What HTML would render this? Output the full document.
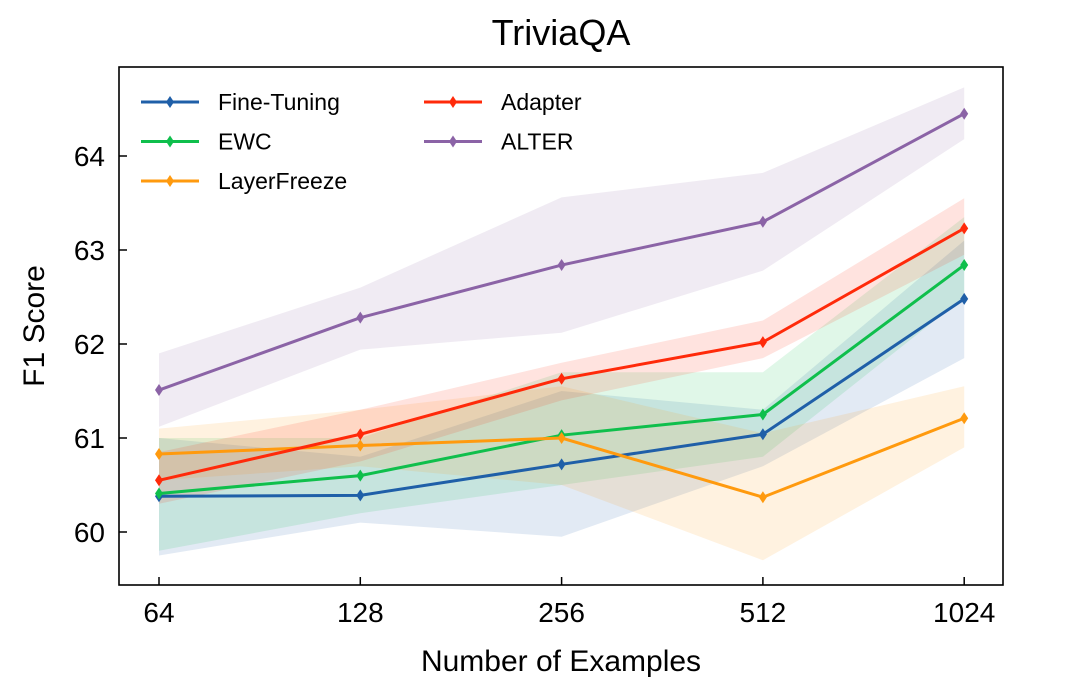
<!DOCTYPE html>
<html><head><meta charset="utf-8"><style>
html,body{margin:0;padding:0;background:#fff;}
svg{display:block;font-family:"Liberation Sans",Arial,sans-serif;}
</style></head><body>
<svg id="chart" width="1080" height="689" viewBox="0 0 1080 689">
<text x="561" y="45" font-size="36" text-anchor="middle">TriviaQA</text>
<g id="bands"></g><g id="lines"></g>
<rect x="119" y="67" width="884" height="518" fill="none" stroke="#000" stroke-width="1.6"/>
<g id="axes"></g>
<text x="561" y="671" font-size="30" text-anchor="middle">Number of Examples</text>
<text transform="translate(44,326) rotate(-90)" font-size="30" text-anchor="middle">F1 Score</text>
<g id="legend"></g>
</svg>
<script>
const categories=["64","128","256","512","1024"];
const yTicks=[60,61,62,63,64];
const seriesNames=["Fine-Tuning","EWC","LayerFreeze","Adapter","ALTER"];
const colors=["#1f5fa8","#0fbf4c","#ff9a0e","#ff2a0a","#8b63a6"];
const ftVals=[60.38,60.39,60.72,61.04,62.48];
const ewcVals=[60.41,60.60,61.03,61.25,62.84];
const lfVals=[60.83,60.92,61.00,60.37,61.21];
const adVals=[60.55,61.04,61.63,62.02,63.23];
const alVals=[61.51,62.28,62.84,63.30,64.45];
const ftLo=[59.75,60.1,59.95,60.7,61.85], ftHi=[61.0,60.8,61.5,61.3,63.1];
const ewcLo=[59.8,60.2,60.5,60.8,62.5], ewcHi=[61.0,61.0,61.7,61.7,63.35];
const lfLo=[60.55,60.7,60.5,59.7,60.9], lfHi=[61.1,61.3,61.55,61.05,61.55];
const adLo=[60.3,60.75,61.4,61.85,62.95], adHi=[60.85,61.3,61.8,62.25,63.55];
const alLo=[61.12,61.94,62.12,62.78,64.18], alHi=[61.9,62.6,63.56,63.82,64.73];
const vals=[ftVals,ewcVals,lfVals,adVals,alVals];
const los=[ftLo,ewcLo,lfLo,adLo,alLo], his=[ftHi,ewcHi,lfHi,adHi,alHi];
const NS="http://www.w3.org/2000/svg";
const xS=i=>159+i*201.3;
const yS=v=>532-(v-60)*94;
function mk(t,a,p){const e=document.createElementNS(NS,t);for(const k in a)e.setAttribute(k,a[k]);p.appendChild(e);return e;}
const bands=document.getElementById('bands'),lines=document.getElementById('lines'),axes=document.getElementById('axes'),leg=document.getElementById('legend');
vals.forEach((v,s)=>{
  let d=los[s].map((l,i)=>(i?'L':'M')+xS(i)+','+yS(l)).join('')+his[s].map((h,i)=>'L'+xS(4-i)+','+yS(his[s][4-i])).join('')+'Z';
  const b=mk('path',{d:d,fill:colors[s],'fill-opacity':0.13},bands);
  
  
});
vals.forEach((v,s)=>{
  const g=mk('g',{},lines);
  
  
  mk('polyline',{points:v.map((y,i)=>xS(i)+','+yS(y)).join(' '),fill:'none',stroke:colors[s],'stroke-width':3},g);
  v.forEach((y,i)=>{const x=xS(i),yy=yS(y);
    const m=mk('path',{d:`M${x},${yy-6}L${x+4},${yy}L${x},${yy+6}L${x-4},${yy}Z`,fill:colors[s]},g);
    
    });
});
categories.forEach((c,i)=>{
  mk('line',{x1:xS(i),x2:xS(i),y1:585,y2:577,stroke:'#000','stroke-width':1.5},axes);
  const t=mk('text',{x:xS(i),y:622,'font-size':28,'text-anchor':'middle'},axes);t.textContent=c;
  
  
});
yTicks.forEach(v=>{
  mk('line',{x1:119,x2:127,y1:yS(v),y2:yS(v),stroke:'#000','stroke-width':1.5},axes);
  const t=mk('text',{x:105,y:yS(v)+10,'font-size':28,'text-anchor':'end'},axes);t.textContent=v;
  
  
});
seriesNames.forEach((n,s)=>{
  const col=s<3?0:1,row=s<3?s:s-3;
  const x0=col?424:141,y=102+row*39.5;
  const g=mk('g',{},leg);
  
  
  mk('line',{x1:x0,x2:x0+58,y1:y,y2:y,stroke:colors[s],'stroke-width':3},g);
  const xm=x0+29;
  mk('path',{d:`M${xm},${y-6}L${xm+4},${y}L${xm},${y+6}L${xm-4},${y}Z`,fill:colors[s]},g);
  const t=mk('text',{x:x0+77,y:y+8,'font-size':23},g);t.textContent=n;
});
</script>
</body></html>
